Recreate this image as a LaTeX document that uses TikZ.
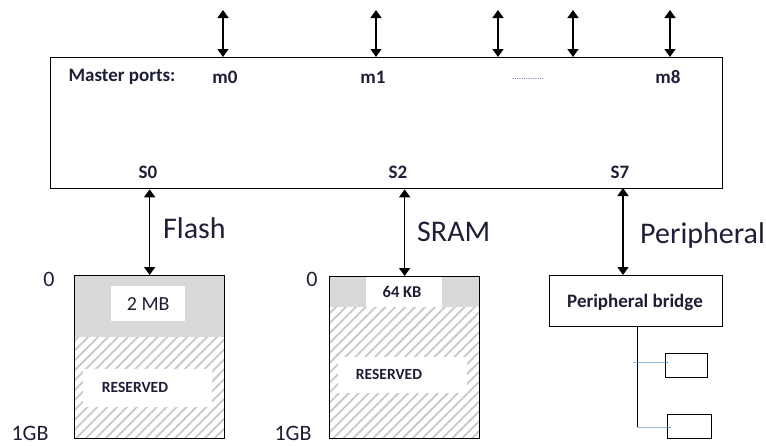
\documentclass[tikz,border=0pt]{standalone}
\usepackage{fontspec}
\setmainfont{Carlito}
\usetikzlibrary{arrows.meta,patterns.meta}
\definecolor{txt}{RGB}{30,30,55}
\definecolor{greyfill}{RGB}{217,217,217}
\definecolor{hatch}{RGB}{200,200,200}
\definecolor{link}{RGB}{91,155,213}
\definecolor{dots}{RGB}{110,90,170}
\begin{document}
\begin{tikzpicture}[x=1pt,y=-1pt,
  lbl/.style={font=\fontsize{19}{19}\selectfont\bfseries, text=txt, inner sep=0pt},
  big/.style={font=\fontsize{30}{30}\selectfont, text=txt, inner sep=0pt, anchor=west},
  addr/.style={font=\fontsize{22}{22}\selectfont, text=txt, inner sep=0pt},
  arr/.style={{Triangle[length=8pt,width=11pt]}-{Triangle[length=8pt,width=11pt]}, line width=1.5pt},
  frame/.style={draw, line width=1.3pt, inner sep=0pt},
  hatched/.style={pattern={Lines[angle=45,distance=7pt,line width=1.8pt]}, pattern color=hatch},
  whitebox/.style={fill=white, inner sep=0pt, anchor=north west},
  link/.style={draw=link, line width=1pt}
]
\useasboundingbox (0,0) rectangle (766,445);

% main interconnect box
\node[frame, anchor=north west, minimum width=672pt, minimum height=131pt] (bus) at (50,57) {};
\node[lbl] (mp) at (122,77) {Master ports:};
\node[lbl] (m0) at (225,77) {m0};
\node[lbl] (m1) at (373,77) {m1};
\node[font=\fontsize{9}{9}\selectfont, text=dots, inner sep=0pt] (md) at (528,79) {..............};
\node[lbl] (m8) at (668,77) {m8};
\node[lbl] (s0) at (148,172) {S0};
\node[lbl] (s2) at (398,172) {S2};
\node[lbl] (s7) at (620,172) {S7};

% top master arrows
\foreach \n/\x in {a/223,b/376,c/498,d/573,e/670}{
  \coordinate (top\n) at (\x,10);
  \draw[arr] (top\n) -- (top\n |- bus.north);
}

% Flash memory
\fill[greyfill] (74,275) rectangle (224,337);
\fill[white] (74,337) rectangle (224,438);
\fill[hatched] (74,337) rectangle (224,438);
\node[whitebox, minimum width=74pt, minimum height=35pt] (f2) at (111,286) {};
\node[font=\fontsize{20}{20}\selectfont, text=txt, inner sep=0pt] (f2t) at (f2.center) {2 MB};
\node[whitebox, minimum width=129pt, minimum height=38pt] (fr) at (83,369) {};
\node[font=\fontsize{15.5}{15.5}\selectfont\bfseries, text=txt, inner sep=0pt] (frt) at (135,387) {RESERVED};
\node[frame, anchor=north west, minimum width=150pt, minimum height=163pt] (flash) at (74,275) {};
\node[addr] (f0) at (49,279) {0};
\node[addr] (f1) at (30,433) {1GB};
\node[big] (flabel) at (163,228) {Flash};
\draw[arr] (flash.north |- bus.south) -- (flash.north);

% SRAM memory
\fill[greyfill] (329,276) rectangle (479,307);
\fill[white] (329,307) rectangle (479,438);
\fill[hatched] (329,307) rectangle (479,438);
\node[whitebox, minimum width=76pt, minimum height=31pt] (s64) at (366,276) {};
\node[font=\fontsize{16.5}{16.5}\selectfont\bfseries, text=txt, inner sep=0pt] (s64t) at (402,292) {64 KB};
\node[whitebox, minimum width=129pt, minimum height=36pt] (sr) at (338,357) {};
\node[font=\fontsize{15.5}{15.5}\selectfont\bfseries, text=txt, inner sep=0pt] (srt) at (389,374) {RESERVED};
\node[frame, anchor=north west, minimum width=150pt, minimum height=162pt] (sram) at (329,276) {};
\node[addr] (r0) at (312,279) {0};
\node[addr] (r1) at (293,433) {1GB};
\node[big] (slabel) at (417,232) {SRAM};
\draw[arr] (sram.north |- bus.south) -- (sram.north);

% Peripheral bridge
\node[frame, anchor=north west, minimum width=173pt, minimum height=51pt] (bridge) at (549,275) {};
\node[lbl] (bt) at (635,302) {Peripheral bridge};
\node[big] (plabel) at (640,235) {Peripheral};
\coordinate (s7port) at (623,188);
\draw[arr] (s7port) -- (s7port |- bridge.north);

\node[draw, line width=1pt, anchor=north west, minimum width=42pt, minimum height=24pt, inner sep=0pt] (p1) at (665,353) {};
\node[draw, line width=1pt, anchor=north west, minimum width=44pt, minimum height=24pt, inner sep=0pt] (p2) at (667,414) {};
\coordinate (bustop) at (637,326);
\coordinate (busend) at (637,427);
\draw[line width=1pt] (bustop) -- (busend);
\coordinate (tap1) at (633,362);
\draw[link] (tap1) -- (p1.west |- tap1) -- ++(3,0);
\draw[link] (busend) -- (p2.west |- busend) -- ++(4,0);
\end{tikzpicture}
\end{document}
